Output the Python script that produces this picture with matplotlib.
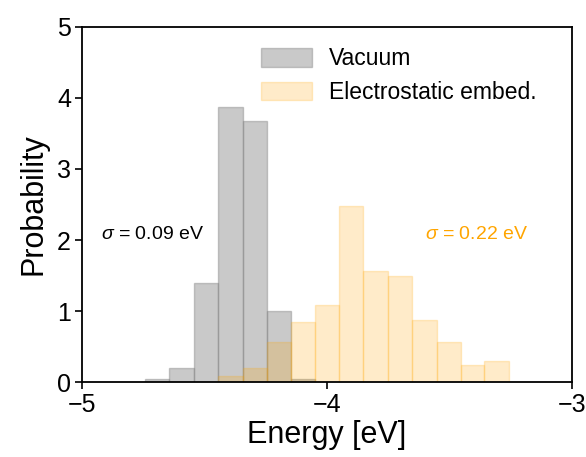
import matplotlib
matplotlib.use("Agg")
import matplotlib.pyplot as plt
import numpy as np

plt.rcParams['font.family'] = ['Liberation Sans', 'DejaVu Sans']
plt.rcParams['mathtext.fontset'] = 'custom'
plt.rcParams['mathtext.it'] = 'Liberation Sans:italic'
plt.rcParams['mathtext.rm'] = 'Liberation Sans'

# Histogram data (densities)
vac_edges = [-4.743, -4.643, -4.542, -4.443, -4.344, -4.244, -4.145, -4.047]
vac_heights = [0.04, 0.20, 1.40, 3.87, 3.67, 1.00, 0.04]

emb_edges = [-4.443, -4.344, -4.244, -4.145, -4.047, -3.950, -3.851, -3.751,
             -3.652, -3.552, -3.453, -3.358, -3.257]
emb_heights = [0.085, 0.20, 0.57, 0.85, 1.09, 2.48, 1.56, 1.49, 0.88, 0.57, 0.245, 0.29]

labels = ["Vacuum", "Electrostatic embed."]
sigma_texts = [r"$\sigma$ = 0.09 eV", r"$\sigma$ = 0.22 eV"]
xticks = [-5, -4, -3]
yticks = [0, 1, 2, 3, 4, 5]

fig = plt.figure(figsize=(5.86, 4.57), dpi=100)
ax = fig.add_axes([0.14, 0.164, 0.836, 0.777])

def centers(edges):
    e = np.asarray(edges)
    return (e[:-1] + e[1:]) / 2

ax.hist(centers(vac_edges), bins=vac_edges, weights=vac_heights,
        color='grey', alpha=0.42, edgecolor='grey', linewidth=1.0, label=labels[0])
ax.hist(centers(emb_edges), bins=emb_edges, weights=emb_heights,
        color='orange', alpha=0.21, edgecolor='orange', linewidth=1.0, label=labels[1])

ax.set_xlim(-5, -3)
ax.set_ylim(0, 5)
ax.set_xticks(xticks)
ax.set_yticks(yticks)
ax.set_xticklabels([f"\u2212{abs(t)}" if t < 0 else str(t) for t in xticks])
ax.tick_params(axis='both', labelsize=18, length=5, width=1.2, direction='out', pad=3)
for s in ax.spines.values():
    s.set_linewidth(1.3)

ax.set_xlabel("Energy [eV]", fontsize=22, labelpad=2)
ax.set_ylabel("Probability", fontsize=22, labelpad=6)

ax.text(-4.922, 2.08, sigma_texts[0], fontsize=14, color='black', va='center', ha='left')
ax.text(-3.60, 2.08, sigma_texts[1], fontsize=14, color='orange', va='center', ha='left')

ax.legend(loc='upper left', bbox_to_anchor=(0.352, 0.962), frameon=False, fontsize=16.5,
          handlelength=2.2, handleheight=0.85, handletextpad=0.75, labelspacing=0.45,
          borderaxespad=0, borderpad=0.3)

fig.savefig("out.png", dpi=100)
